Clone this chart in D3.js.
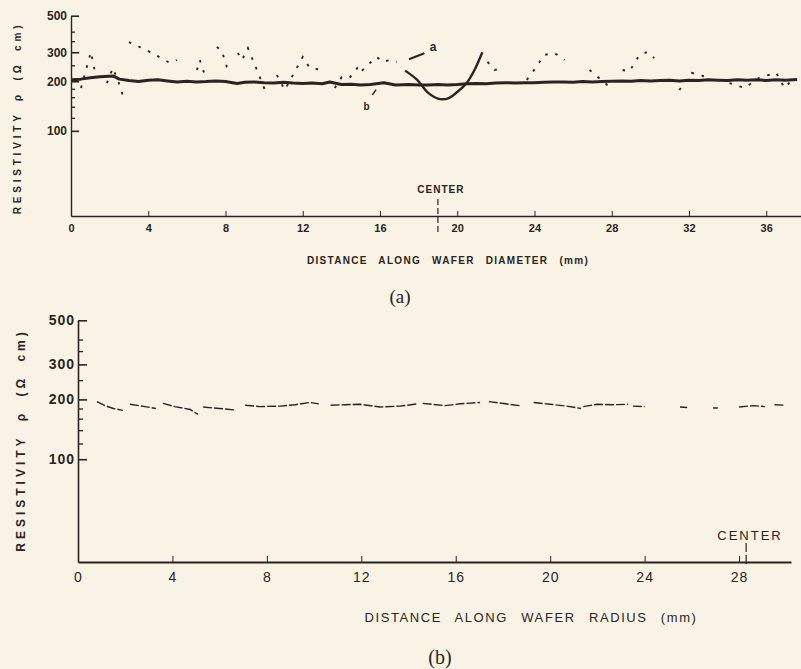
<!DOCTYPE html>
<html>
<head>
<meta charset="utf-8">
<title>Resistivity profiles</title>
<style>
body { margin: 0; background: #f8f3e5; }
svg { display: block; }
.ax path, .ax line { stroke: #2b2422; }
.ax text { fill: #2b2422; }
</style>
<script src="https://d3js.org/d3.v7.min.js"></script>
</head>
<body>
<svg id="chart" width="801" height="669"></svg>
<script>
// ---- data ----
// panel (a): distance along diameter (mm)
const diamTicks = [0, 4, 8, 12, 16, 20, 24, 28, 32, 36];
const diamCenter = 19;
// curve b, thick nearly flat trace
const bMm  = [0, 0.5, 1.0, 1.5, 2.2, 2.5, 3.0, 3.5, 4.0, 4.5, 5.0, 5.5, 6.0, 6.5, 7.0, 7.5, 8.0, 8.6, 9.0, 9.5, 10.0, 10.5, 11.0, 11.5, 12.0, 12.5, 13.0, 13.4, 14.0, 14.5, 15.0, 15.5, 16.2, 16.8, 17.5, 18.0, 18.5, 19.0, 19.5, 20.0, 20.5, 21.0, 21.5, 22.0, 22.5, 23.0, 23.5, 24.0, 24.5, 25.0, 25.5, 26.0, 26.5, 27.0, 27.5, 28.0, 28.5, 29.0, 29.5, 30.0, 30.5, 31.0, 31.5, 32.0, 32.5, 33.0, 33.5, 34.0, 34.5, 35.0, 35.5, 36.0, 36.5, 37.0, 37.6];
const bRho = [204, 206, 210, 213, 215, 206, 202, 199, 203, 204, 201, 198, 200, 198, 199, 201, 199, 194, 197, 198, 196, 195, 197, 195, 194, 195, 193, 198, 191, 192, 190, 191, 196, 190, 191, 190, 190, 191, 190, 191, 193, 194, 193, 195, 196, 195, 196, 196, 197, 198, 198, 197, 199, 198, 199, 200, 201, 200, 202, 201, 202, 203, 201, 203, 202, 204, 203, 202, 204, 203, 204, 202, 204, 203, 205];
// curve a, broken scattered trace (null = gap in the pen)
const aMm  = [0.52, 1.03, 1.24, null, 1.86, 2.17, 2.48, 2.69, null, 3.0, 3.98, 4.76, 5.12, 5.48, null, 6.52, 6.67, 6.93, null, 7.55, 7.81, 8.07, 8.33, null, 8.64, 8.85, 9.16, 9.67, 10.04, null, 10.66, 11.07, 12.0, 12.36, 13.04, null, 13.66, 14.02, 14.43, 14.95, 15.1, 15.36, 15.83, 16.14, 16.5, 16.87,
              null, 21.57, 21.93, 22.2, null, 23.6, 24.1, 24.5, 25.04, 25.56, null, 26.85, 27.88, null, 28.56, 28.92, 29.44, 29.85, 30.2, null, 31.5, 32.13, 33.06, null, 34.1, 34.87, 35.64, 36.52, 36.94, 37.45];
const aRho = [182, 301, 228, null, 195, 241, 195, 163, null, 346, 306, 273, 258, 269, null, 234, 269, 218, null, 323, 306, 244, 228, null, 297, 269, 318, 228, 177, null, 218, 177, 281, 241, 234, null, 182, 212, 210, 251, 234, 251, 281, 262, 269, 262,
              null, 262, 234, 238, null, 204, 244, 289, 297, 269, null, 234, 185, null, 234, 230, 289, 301, 277, null, 177, 225, 210, null, 195, 182, 210, 225, 182, 210];
// curve a through the centre, drawn solid
const dipMm  = [17.3, 17.9, 18.5, 19.0, 19.5, 20.0, 20.5, 20.9, 21.3];
const dipRho = [232, 205, 170, 157, 157, 172, 196, 235, 300];

// panel (b): distance along radius (mm)
const radTicks = [0, 4, 8, 12, 16, 20, 24, 28];
const radCenter = 28.3;
const rMm  = [0.8, 1.14, 1.5, 1.9, null, 2.2, 2.84, 3.3, null, 3.6, 4.1, 4.75, 5.08, null, 5.3, 6.0, 6.65, null, 7.08, 7.7, 8.56, 9.2, 9.83, 10.2, null, 10.7, 11.3, 11.95, 12.8, 13.64, 14.4, null, 14.6, 15.55, 16.2, 17.03, null, 17.4, 18.1, 18.73, null, 19.3, 20.0, 20.7, 21.3, null, 21.4, 22.0, 22.6, 23.3, null, 23.5, 24.0, null, 25.5, 25.8, null, 26.9, 27.1, null, 28.0, 28.6, 29.1, null, 29.5, 29.9];
const rRho = [195, 186, 180, 176, null, 189, 184, 180, null, 191, 184, 178, 168, null, 183, 180, 177, null, 187, 184, 185, 188, 193, 190, null, 187, 188, 189, 183, 185, 190, null, 191, 186, 190, 193, null, 195, 190, 186, null, 193, 189, 185, 180, null, 184, 189, 188, 189, null, 185, 184, null, 183, 182, null, 181, 181, null, 183, 186, 184, null, 188, 187];

// resistivity axis (log)
const rhoTicks = [100, 200, 300, 500];
const rhoMinor = [120, 140, 160, 180, 250, 350, 400];

// ---- drawing ----
const ink = "#2b2422";
const svg = d3.select("#chart");
svg.append("rect").attr("width", 801).attr("height", 669).attr("fill", "#f8f3e5");

function pairs(xs, ys) {
  return xs.map((x, i) => [x, ys[i]]);
}

// panel (a)
const xa = d3.scaleLinear().domain([0, 37.8]).range([71, 801]);
const ya = d3.scaleLog().domain([30.4, 500]).range([216, 15.7]);
const ga = svg.append("g");

ga.append("g").attr("class", "ax").attr("transform", "translate(0,216)")
  .call(d3.axisBottom(xa).tickValues(diamTicks).tickSize(-5).tickSizeOuter(0).tickPadding(8))
  .call(g => g.selectAll("text").attr("font-family", "Liberation Sans, sans-serif").attr("font-weight", "bold").attr("font-size", 11))
  .call(g => g.select(".domain").attr("stroke-width", 1.6));

ga.append("g").attr("class", "ax").attr("transform", "translate(71,0)")
  .call(d3.axisLeft(ya).tickValues(rhoTicks).tickSize(-8).tickSizeOuter(0).tickPadding(4).tickFormat(d3.format("d")))
  .call(g => g.selectAll("text").attr("font-family", "Liberation Sans, sans-serif").attr("font-weight", "bold").attr("font-size", 12))
  .call(g => g.selectAll("line").attr("stroke-width", 1.6))
  .call(g => g.select(".domain").attr("stroke-width", 1.4));
ga.append("g").attr("class", "ax").attr("transform", "translate(71,0)")
  .call(d3.axisLeft(ya).tickValues(rhoMinor).tickSize(-4).tickSizeOuter(0).tickFormat(""))
  .call(g => g.select(".domain").remove())
  .call(g => g.selectAll("line").attr("stroke-width", 1.3));

const lineA = d3.line().defined(d => d[1] != null).x(d => xa(d[0])).y(d => ya(d[1]));

ga.append("path").datum(pairs(bMm, bRho)).attr("d", lineA)
  .attr("fill", "none").attr("stroke", ink).attr("stroke-width", 3).attr("stroke-linejoin", "round");
ga.append("path").datum(pairs(aMm, aRho)).attr("d", lineA)
  .attr("fill", "none").attr("stroke", ink).attr("stroke-width", 1.9).attr("stroke-dasharray", "2.5,8");
ga.append("path").datum(pairs(dipMm, dipRho)).attr("d", d3.line().curve(d3.curveCatmullRom).x(d => xa(d[0])).y(d => ya(d[1])))
  .attr("fill", "none").attr("stroke", ink).attr("stroke-width", 2.4);

// curve labels
ga.append("line").attr("x1", xa(17.5)).attr("y1", ya(272)).attr("x2", xa(18.3)).attr("y2", ya(296))
  .attr("stroke", ink).attr("stroke-width", 2);
ga.append("text").attr("x", xa(18.75)).attr("y", ya(323) + 4).attr("text-anchor", "middle")
  .attr("font-family", "Liberation Sans, sans-serif").attr("font-weight", "bold").attr("font-size", 12).attr("fill", ink).text("a");
ga.append("line").attr("x1", xa(15.6)).attr("y1", ya(165)).attr("x2", xa(15.8)).attr("y2", ya(178))
  .attr("stroke", ink).attr("stroke-width", 1.4);
ga.append("text").attr("x", xa(15.3)).attr("y", ya(133)).attr("text-anchor", "middle")
  .attr("font-family", "Liberation Sans, sans-serif").attr("font-weight", "bold").attr("font-size", 10).attr("fill", ink).text("b");

// centre marker
ga.append("line").attr("x1", xa(diamCenter)).attr("x2", xa(diamCenter)).attr("y1", 199).attr("y2", 232)
  .attr("stroke", ink).attr("stroke-width", 1.2).attr("stroke-dasharray", "6,3");
ga.append("text").attr("x", xa(diamCenter) + 3).attr("y", 193).attr("text-anchor", "middle")
  .attr("font-family", "Liberation Sans, sans-serif").attr("font-weight", "bold").attr("font-size", 10).attr("letter-spacing", 1).attr("fill", ink).text("CENTER");

// titles
ga.append("text").attr("x", 448).attr("y", 264).attr("text-anchor", "middle")
  .attr("font-family", "Liberation Sans, sans-serif").attr("font-weight", "bold").attr("font-size", 10)
  .attr("letter-spacing", 1.3).attr("word-spacing", 7).attr("fill", ink).text("DISTANCE ALONG WAFER DIAMETER (mm)");
ga.append("text").attr("transform", "translate(21,118) rotate(-90)").attr("text-anchor", "middle")
  .attr("font-family", "Liberation Sans, sans-serif").attr("font-weight", "bold").attr("font-size", 10)
  .attr("letter-spacing", 3.8).attr("word-spacing", 4).attr("fill", ink).text("RESISTIVITY ρ (Ω cm)");
ga.append("text").attr("x", 400).attr("y", 303).attr("text-anchor", "middle")
  .attr("font-family", "Liberation Serif, serif").attr("font-size", 19).attr("fill", ink).text("(a)");

// panel (b)
const xb = d3.scaleLinear().domain([0, 30.2]).range([78, 791]);
const yb = d3.scaleLog().domain([30.4, 500]).range([562, 320.3]);
const gb = svg.append("g");

gb.append("g").attr("class", "ax").attr("transform", "translate(0,562)")
  .call(d3.axisBottom(xb).tickValues(radTicks).tickSize(-6).tickSizeOuter(0).tickPadding(10))
  .call(g => g.selectAll("text").attr("font-family", "Liberation Sans, sans-serif").attr("font-size", 14).attr("letter-spacing", 1))
  .call(g => g.select(".domain").attr("stroke-width", 1.8));

gb.append("g").attr("class", "ax").attr("transform", "translate(78,0)")
  .call(d3.axisLeft(yb).tickValues(rhoTicks).tickSize(-9).tickSizeOuter(0).tickPadding(3).tickFormat(d3.format("d")))
  .call(g => g.selectAll("text").attr("font-family", "Liberation Sans, sans-serif").attr("font-weight", "bold").attr("font-size", 14).attr("letter-spacing", 1))
  .call(g => g.selectAll("line").attr("stroke-width", 1.6))
  .call(g => g.select(".domain").attr("stroke-width", 1.6));
gb.append("g").attr("class", "ax").attr("transform", "translate(78,0)")
  .call(d3.axisLeft(yb).tickValues(rhoMinor).tickSize(-5).tickSizeOuter(0).tickFormat(""))
  .call(g => g.select(".domain").remove())
  .call(g => g.selectAll("line").attr("stroke-width", 1.3));

const lineB = d3.line().defined(d => d[1] != null).x(d => xb(d[0])).y(d => yb(d[1]));
gb.append("path").datum(pairs(rMm, rRho)).attr("d", lineB)
  .attr("fill", "none").attr("stroke", ink).attr("stroke-width", 1.4).attr("stroke-dasharray", "9,2");

// centre marker
gb.append("line").attr("x1", xb(radCenter)).attr("x2", xb(radCenter)).attr("y1", 543).attr("y2", 566)
  .attr("stroke", ink).attr("stroke-width", 1.2).attr("stroke-dasharray", "9,3");
gb.append("text").attr("x", 750).attr("y", 540).attr("text-anchor", "middle")
  .attr("font-family", "Liberation Sans, sans-serif").attr("font-size", 13).attr("letter-spacing", 2).attr("fill", ink).text("CENTER");

// titles
gb.append("text").attr("x", 531).attr("y", 622).attr("text-anchor", "middle")
  .attr("font-family", "Liberation Sans, sans-serif").attr("font-size", 13)
  .attr("letter-spacing", 1.6).attr("word-spacing", 8).attr("fill", ink).text("DISTANCE ALONG WAFER RADIUS (mm)");
gb.append("text").attr("transform", "translate(25,440) rotate(-90)").attr("text-anchor", "middle")
  .attr("font-family", "Liberation Sans, sans-serif").attr("font-weight", "bold").attr("font-size", 12)
  .attr("letter-spacing", 4).attr("word-spacing", 6).attr("fill", ink).text("RESISTIVITY ρ (Ω cm)");
gb.append("text").attr("x", 440).attr("y", 664).attr("text-anchor", "middle")
  .attr("font-family", "Liberation Serif, serif").attr("font-size", 20).attr("fill", ink).text("(b)");
</script>
</body>
</html>
